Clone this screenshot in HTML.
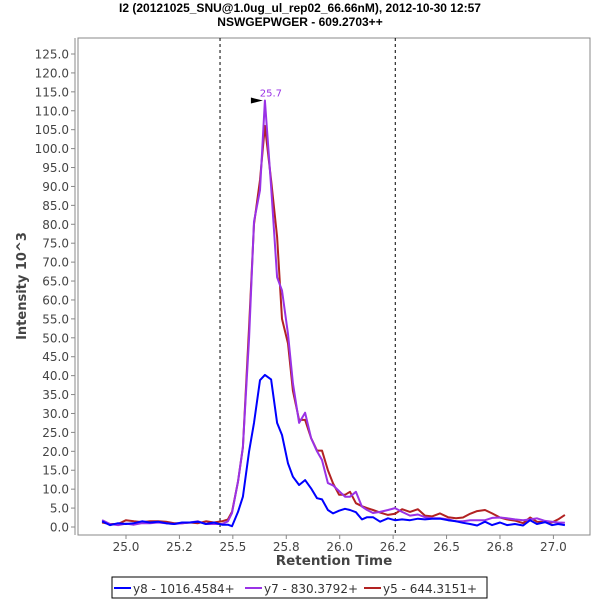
<!DOCTYPE html>
<html><head><meta charset="utf-8"><style>
body{margin:0;background:#fff;}
svg{display:block;font-family:"DejaVu Sans","Liberation Sans",sans-serif;}
</style></head><body>
<svg id="c" width="600" height="600">
<text x="300" y="12" text-anchor="middle" font-size="12" font-weight="bold" fill="#000" font-family="Liberation Sans, sans-serif">I2 (20121025_SNU@1.0ug_ul_rep02_66.66nM), 2012-10-30 12:57</text>
<text x="300" y="26" text-anchor="middle" font-size="12" font-weight="bold" fill="#000" font-family="Liberation Sans, sans-serif">NSWGEPWGER - 609.2703++</text>
<rect x="78" y="38" width="512" height="497" fill="#fff" stroke="#888"/>
<line x1="75" y1="38" x2="75" y2="535" stroke="#888"/>
<g id="yt"></g><g id="xt"></g><g id="lines"></g>
<text transform="translate(26,286) rotate(-90)" text-anchor="middle" font-size="13" font-weight="bold" fill="#444">Intensity 10^3</text>
<text x="334" y="565" text-anchor="middle" font-size="13.5" font-weight="bold" fill="#444">Retention Time</text>
<g>
<rect x="112" y="577" width="375" height="21" fill="#fff" stroke="#000"/>
<line x1="114" y1="588" x2="131" y2="588" stroke="#0000ff" stroke-width="2"/>
<text x="133" y="593" font-size="12" fill="#333">y8 - 1016.4584+</text>
<line x1="245" y1="588" x2="262" y2="588" stroke="#9a32e6" stroke-width="2"/>
<text x="264" y="593" font-size="12" fill="#333">y7 - 830.3792+</text>
<line x1="364" y1="588" x2="381" y2="588" stroke="#b22222" stroke-width="2"/>
<text x="383" y="593" font-size="12" fill="#333">y5 - 644.3151+</text>
</g>
</svg>
<script>
const times=[24.888,24.925,24.963,25.000,25.037,25.075,25.112,25.150,25.187,25.225,25.262,25.299,25.337,25.374,25.412,25.449,25.477,25.496,25.524,25.547,25.576,25.599,25.627,25.650,25.679,25.707,25.730,25.758,25.781,25.810,25.838,25.866,25.894,25.917,25.945,25.969,25.997,26.025,26.048,26.076,26.104,26.128,26.156,26.189,26.226,26.259,26.292,26.329,26.366,26.399,26.432,26.469,26.507,26.544,26.577,26.610,26.643,26.680,26.713,26.750,26.783,26.820,26.858,26.891,26.923,26.961,26.993,27.022,27.054];
const y8=[1.5,0.5,1,0.8,1,1.5,1.2,1.4,1,0.8,1.2,1.2,1.4,0.8,1.2,0.6,0.6,0.2,4,8,20,27.5,38.8,40.2,39,27.5,24.3,16.8,13.3,11.1,12.4,10.2,7.6,7.3,4.5,3.6,4.3,4.8,4.5,3.9,2,2.6,2.6,1.4,2.3,1.8,2.0,1.8,2.2,2.0,2.2,2.2,1.8,1.5,1.1,0.8,0.4,1.4,0.5,1.2,0.5,0.8,0.4,1.8,0.8,1.3,0.5,0.8,0.5];
const y7=[1.8,0.8,0.5,0.9,0.6,1.0,1.0,1.2,1.0,0.8,1.0,1.2,1.5,0.8,0.8,0.8,1.5,3.7,12,21.2,50,80.7,89,112.7,90,66,62.5,51,38,27.5,30.2,23.5,20,17.7,11.6,11,9.5,8,8,9.3,5.4,4.5,3.7,4,4.5,5,4,3,3.3,2.6,2.3,2.3,2.0,1.5,1.5,1.8,1.8,1.8,2.4,2.5,2.3,2.0,1.8,2.0,2.3,1.6,1.4,1.2,1.1];
const y5=[1.2,0.8,0.8,1.8,1.5,1.3,1.5,1.5,1.4,1.0,1.0,1.2,1.0,1.5,1.2,1.5,2,4,12,21,53,80,91.7,106,91.7,76.7,55,48.5,36,28.3,28.3,23.5,20.2,20.2,15,11.5,8.5,8.5,9.3,6.3,5.5,5,4.5,3.8,3.2,3.5,4.7,4,4.7,3,2.8,3.6,2.6,2.3,2.5,3.5,4.2,4.5,3.6,2.5,2.0,1.7,1.0,2.5,1.4,1.3,1.2,2.0,3.2];
const yTicks=[0,5,10,15,20,25,30,35,40,45,50,55,60,65,70,75,80,85,90,95,100,105,110,115,120,125];
const xTicks=[25.0,25.25,25.5,25.75,26.0,26.25,26.5,26.75,27.0];
const xTickLabels=["25.0","25.2","25.5","25.8","26.0","26.2","26.5","26.8","27.0"];
const boundaries=[25.44,26.26];
const peakTime=25.65, peakValue=112.7, peakLabel="25.7";
const NS="http://www.w3.org/2000/svg";
const X=t=>126+(t-25)*213.7;
const Y=v=>527-v*3.784;
function mk(tag,attrs,parent){const e=document.createElementNS(NS,tag);for(const k in attrs)e.setAttribute(k,attrs[k]);parent.appendChild(e);return e;}
const yt=document.getElementById('yt'),xt=document.getElementById('xt'),lg=document.getElementById('lines');
yTicks.forEach(v=>{
 const l=mk('line',{x1:71,x2:75,y1:Y(v),y2:Y(v),stroke:'#888'},yt);
 
 
 const t=mk('text',{x:69,y:Y(v)+4.5,'text-anchor':'end','font-size':12,fill:'#444'},yt);
 t.textContent=v.toFixed(1);
 
 
});
xTicks.forEach((v,i)=>{
 const l=mk('line',{x1:X(v),x2:X(v),y1:535,y2:539,stroke:'#888'},xt);
 
 
 const t=mk('text',{x:X(v),y:551,'text-anchor':'middle','font-size':12,fill:'#444'},xt);
 t.textContent=xTickLabels[i];
 
 
});
boundaries.forEach(b=>{
 const l=mk('line',{x1:X(b),x2:X(b),y1:38,y2:535,stroke:'#000','stroke-dasharray':'3,3','stroke-width':1},lg);
 
 
});
[[y5,'#b22222','series-y5'],[y7,'#9a32e6','series-y7'],[y8,'#0000ff','series-y8']].forEach(([d,c,n])=>{
 const p=mk('polyline',{points:times.map((t,i)=>X(t).toFixed(1)+','+Y(d[i]).toFixed(1)).join(' '),fill:'none',stroke:c,'stroke-width':2,'stroke-linejoin':'round'},lg);
 
 
});
const px=X(peakTime),py=Y(peakValue);
const ar=mk('polygon',{points:`${px-14},${py-3} ${px-2},${py} ${px-14},${py+3}`,fill:'#000'},lg);


const pl=mk('text',{x:px+6,y:py-4,'text-anchor':'middle','font-size':10,fill:'#9a32e6'},lg);
pl.textContent=peakLabel;


</script>
</body></html>
